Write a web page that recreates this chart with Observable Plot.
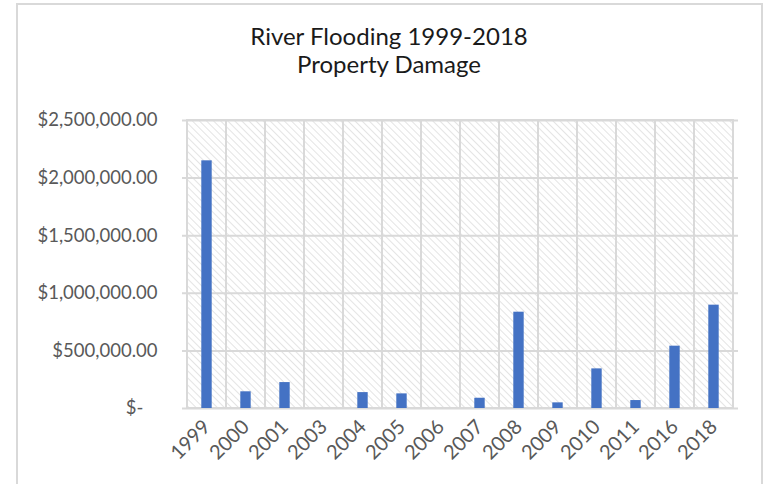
<!DOCTYPE html>
<html>
<head>
<meta charset="utf-8">
<script src="https://cdn.jsdelivr.net/npm/d3@7"></script>
<script src="https://cdn.jsdelivr.net/npm/@observablehq/plot@0.6"></script>
<style>
  html, body { margin: 0; padding: 0; background: #fff; }
  #chart { position: relative; width: 765px; height: 484px; overflow: hidden; font-family: Lato, "Open Sans", sans-serif; }
  #frame { position: absolute; left: 16px; top: 3px; width: 747px; height: 500px; border: 2px solid #d9d9d9; box-sizing: border-box; }
  #title { position: absolute; left: 16px; width: 746px; top: 22px; text-align: center; font-size: 24px; line-height: 28px; color: #1a1a1a; }
  #chart svg.plot { position: absolute; left: 0; top: 0; }
</style>
</head>
<body>
<svg width="0" height="0" style="position:absolute">
  <defs>
    <pattern id="hatch" width="5" height="5" patternUnits="userSpaceOnUse" patternTransform="rotate(-45)">
      <rect width="5" height="5" fill="#ffffff"></rect>
      <line x1="0" y1="0" x2="0" y2="5" stroke="#dedede" stroke-width="1.6"></line>
    </pattern>
  </defs>
</svg>
<div id="chart">
  <div id="frame"></div>
  <div id="title">River Flooding 1999-2018<br>Property Damage</div>
</div>
<script>
// Years with recorded river-flood property damage
const years = ["1999", "2000", "2001", "2003", "2004", "2005", "2006", "2007", "2008", "2009", "2010", "2011", "2016", "2018"];
// Property damage in US dollars for each year
const damage = [2150000, 145000, 225000, 0, 138000, 127000, 0, 89000, 836000, 49000, 344000, 69000, 541000, 897000];
// Value axis ticks
const yTicks = [0, 500000, 1000000, 1500000, 2000000, 2500000];

const rows = years.map((year, i) => ({year, damage: damage[i]}));

const money = d3.format("$,.2f");
const fmt = v => v === 0 ? "$-\u00a0\u00a0\u00a0" : money(v);

const grid = "#d9d9d9";
const labelColor = "#595959";

const plot = Plot.plot({
  width: 765,
  height: 484,
  marginLeft: 182,
  marginRight: 27,
  marginTop: 120,
  marginBottom: 76,
  style: {fontFamily: "Lato, 'Open Sans', sans-serif", fontSize: "18px", color: labelColor, background: "transparent"},
  x: {domain: years, padding: 0, label: null},
  y: {domain: [0, 2500000], label: null},
  marks: [
    // hatched column cells with vertical separators
    Plot.cell(years, {x: d => d, fill: "url(#hatch)", stroke: grid, strokeWidth: 2, inset: 0}),
    Plot.gridY(yTicks, {stroke: grid, strokeOpacity: 1, strokeWidth: 2}),
    Plot.barY(rows, {x: "year", y: "damage", fill: "#4472c4", insetLeft: 14.3, insetRight: 14.3}),
    Plot.axisY(yTicks, {tickSize: 0, tickPadding: 25, tickFormat: fmt, fill: labelColor, fontSize: 18.5, label: null}),
    Plot.axisX({tickSize: 0, tickPadding: 15, tickRotate: -45, fill: labelColor, fontSize: 20, label: null})
  ]
});
plot.classList.add("plot");
document.getElementById("chart").appendChild(plot);
</script>
</body>
</html>
